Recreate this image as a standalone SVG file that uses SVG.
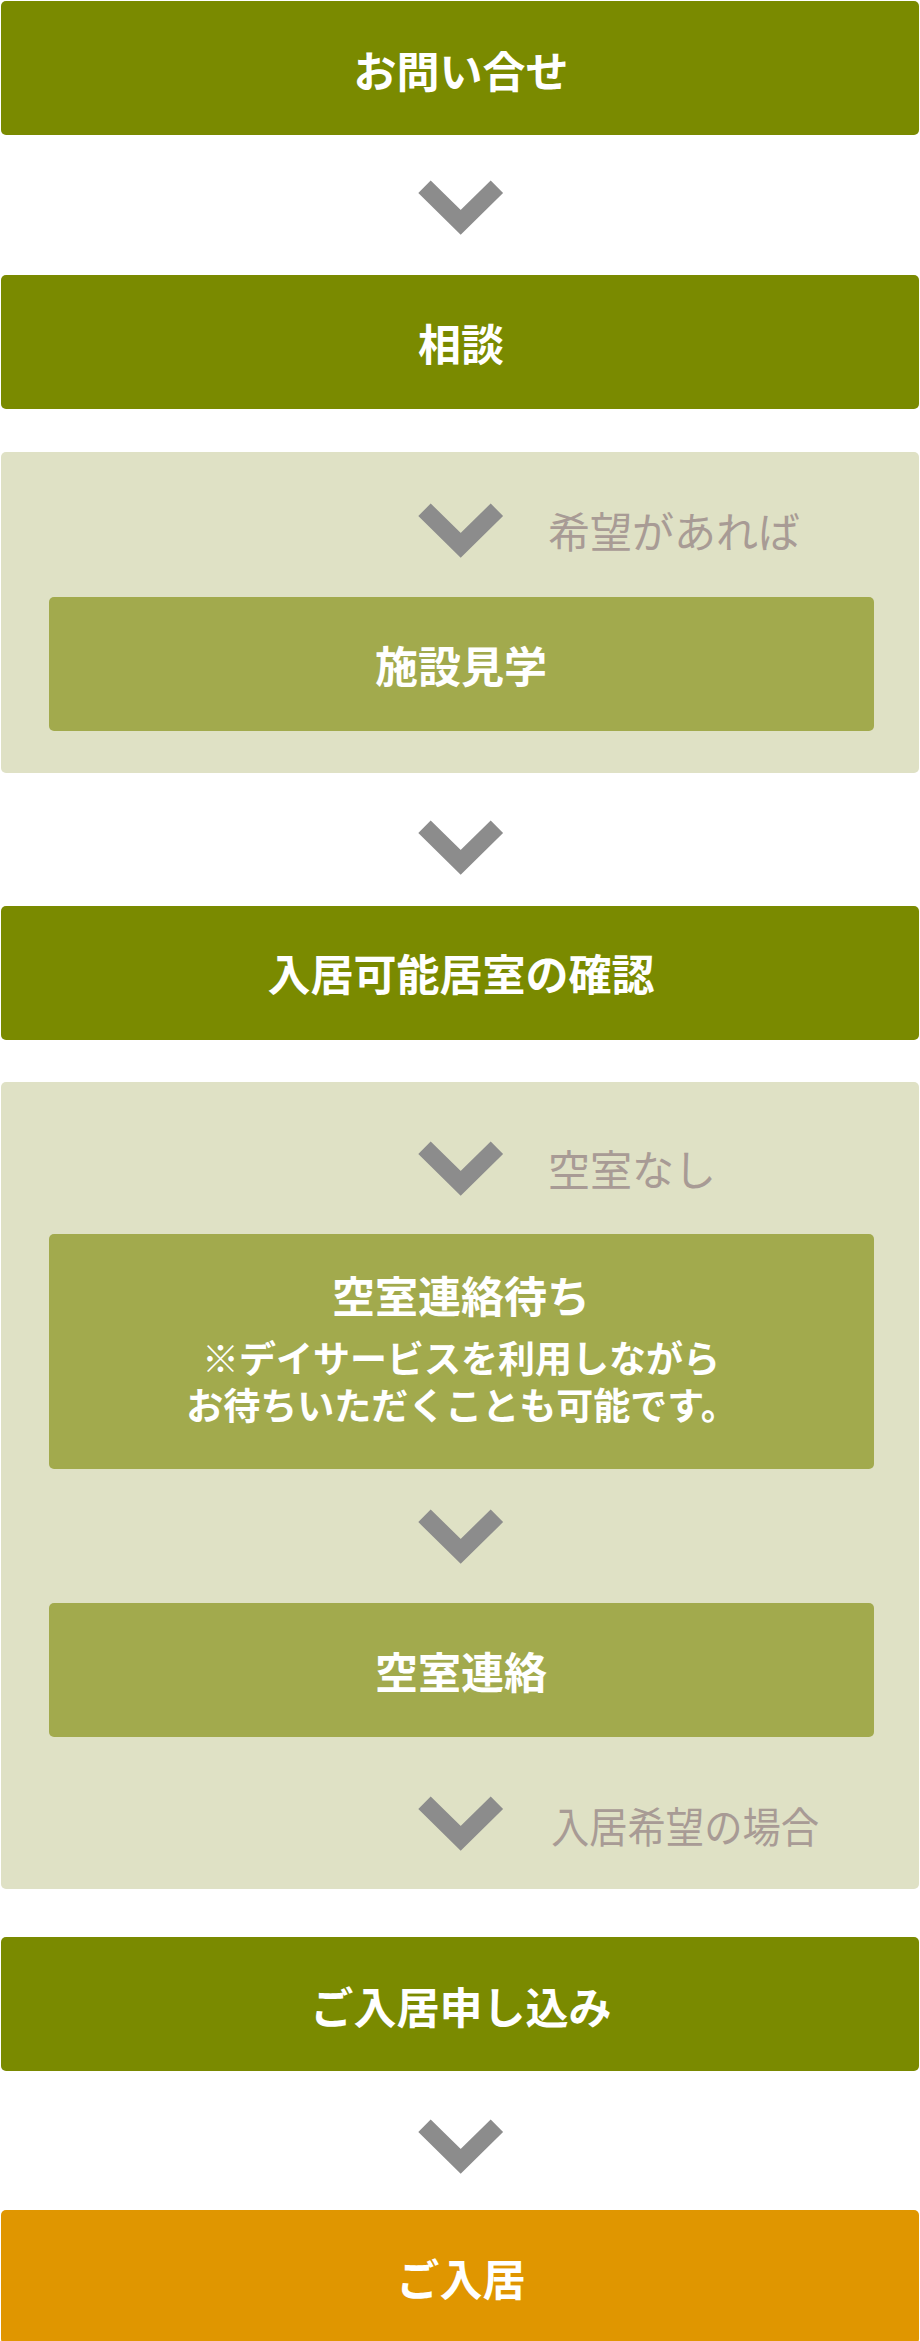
<svg xmlns="http://www.w3.org/2000/svg" xmlns:xlink="http://www.w3.org/1999/xlink" width="920" height="2341" viewBox="0 0 920 2341">
<style>
.main{fill:#7a8a00}
.panel{fill:#dfe1c5}
.sub{fill:#a2aa4d}
.final{fill:#e09600}
.t{font-family:"Noto Sans CJK JP","Noto Sans CJK SC",sans-serif;font-weight:700;font-size:43px;fill:#ffffff;text-anchor:middle}
.s{font-family:"Noto Sans CJK JP","Noto Sans CJK SC",sans-serif;font-weight:700;font-size:37px;fill:#ffffff;text-anchor:middle}
.lbl{font-family:"Noto Sans CJK JP","Noto Sans CJK SC",sans-serif;font-weight:400;font-size:42px;fill:#a89b95}
.chev{fill:none;stroke:#8c8c8c;stroke-width:17.7;stroke-linejoin:miter;stroke-linecap:butt}
</style>
<defs>
<path id="chevron" class="chev" d="M424.5 5.8 L460.7 41.3 L496.9 5.8"/>
</defs>
<rect width="920" height="2341" fill="#ffffff"/>
<g id="panel-visit">
<rect class="panel" x="1" y="452" width="918" height="321" rx="5"/>
</g>
<g id="panel-vacancy">
<rect class="panel" x="1" y="1082" width="918" height="807" rx="5"/>
</g>
<g id="connectors">
<use xlink:href="#chevron" y="181"/>
<use xlink:href="#chevron" y="504"/>
<use xlink:href="#chevron" y="821"/>
<use xlink:href="#chevron" y="1142"/>
<use xlink:href="#chevron" y="1510"/>
<use xlink:href="#chevron" y="1797"/>
<use xlink:href="#chevron" y="2120"/>
<text class="lbl" x="548" y="548">希望があれば</text>
<text class="lbl" x="548" y="1186">空室なし</text>
<text class="lbl" x="551" y="1843" textLength="268" lengthAdjust="spacingAndGlyphs">入居希望の場合</text>
</g>
<g id="node-inquiry">
<rect class="main" x="1" y="1" width="918" height="134" rx="5"/>
<text class="t" x="461" y="88">お問い合せ</text>
</g>
<g id="node-consult">
<rect class="main" x="1" y="275" width="918" height="134" rx="5"/>
<text class="t" x="461" y="361">相談</text>
</g>
<g id="node-visit">
<rect class="sub" x="49" y="597" width="825" height="134" rx="5"/>
<text class="t" x="461" y="683">施設見学</text>
</g>
<g id="node-confirm">
<rect class="main" x="1" y="906" width="918" height="134" rx="5"/>
<text class="t" x="461" y="991">入居可能居室の確認</text>
</g>
<g id="node-wait">
<rect class="sub" x="49" y="1234" width="825" height="235" rx="5"/>
<text class="t" x="461" y="1313">空室連絡待ち</text>
<text class="s" x="461" y="1373">※デイサービスを利用しながら</text>
<text class="s" x="462" y="1420">お待ちいただくことも可能です。</text>
</g>
<g id="node-contact">
<rect class="sub" x="49" y="1603" width="825" height="134" rx="5"/>
<text class="t" x="461" y="1689">空室連絡</text>
</g>
<g id="node-apply">
<rect class="main" x="1" y="1937" width="918" height="134" rx="5"/>
<text class="t" x="461" y="2024">ご入居申し込み</text>
</g>
<g id="node-move-in">
<rect class="final" x="1" y="2210" width="918" height="134" rx="5"/>
<text class="t" x="461" y="2296">ご入居</text>
</g>
</svg>
